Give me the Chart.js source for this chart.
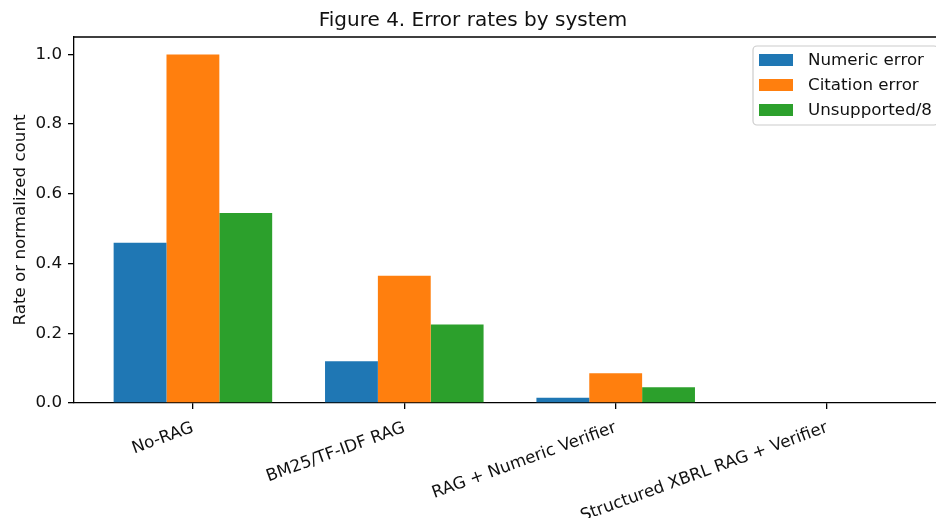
<!DOCTYPE html>
<html>
<head>
<meta charset="utf-8">
<script src="https://cdn.jsdelivr.net/npm/chart.js@4"></script>
<style>
  html, body { margin: 0; padding: 0; overflow: hidden; background: #fff; }
  #wrap { position: absolute; left: 0; top: 0; width: 960px; height: 518px; }
</style>
</head>
<body>
<div id="wrap"><canvas id="chart" width="960" height="518"></canvas></div>
<script>
// Data
var systems = ['No-RAG', 'BM25/TF-IDF RAG', 'RAG + Numeric Verifier', 'Structured XBRL RAG + Verifier'];
var numericError = [0.46, 0.12, 0.015, 0];
var citationError = [1.0, 0.365, 0.085, 0];
var unsupported8 = [0.545, 0.225, 0.045, 0];
var yTicks = [0, 0.2, 0.4, 0.6, 0.8, 1.0];

var FONT = "'DejaVu Sans', sans-serif";
Chart.defaults.font.family = FONT;
Chart.defaults.color = '#000';

function toPoints(arr) {
  return arr.map(function(v, i) { return { x: i, y: v }; });
}

// matplotlib-like legend drawn inside the plot, upper right
var boxLegend = {
  id: 'boxLegend',
  afterDatasetsDraw: function(chart) {
    var ctx = chart.ctx;
    var area = chart.chartArea;
    var x = 753, y = 46, w = area.right - 8 - 753, h = 79;
    ctx.save();
    ctx.beginPath();
    ctx.roundRect(x, y, w, h, 4);
    ctx.fillStyle = 'rgba(255,255,255,0.8)';
    ctx.fill();
    ctx.strokeStyle = '#cccccc';
    ctx.lineWidth = 1.2;
    ctx.stroke();
    ctx.font = '16.7px ' + FONT;
    ctx.textBaseline = 'middle';
    chart.data.datasets.forEach(function(ds, i) {
      var cy = 60 + i * 25;
      ctx.fillStyle = ds.backgroundColor;
      ctx.fillRect(759, cy - 6, 34, 12);
      ctx.fillStyle = '#111';
      ctx.fillText(ds.label, 808, cy + 1);
    });
    ctx.restore();
  }
};

// top / right spines
var frame = {
  id: 'frame',
  afterDraw: function(chart) {
    var a = chart.chartArea, ctx = chart.ctx;
    ctx.save();
    ctx.strokeStyle = '#000';
    ctx.lineWidth = 1.3;
    ctx.beginPath();
    ctx.moveTo(a.left, a.top);
    ctx.lineTo(a.right, a.top);
    ctx.lineTo(a.right, a.bottom);
    ctx.stroke();
    ctx.restore();
  }
};

var ctx = document.getElementById('chart').getContext('2d');
var chart = new Chart(ctx, {
  type: 'bar',
  data: {
    datasets: [
      { label: 'Numeric error', data: toPoints(numericError), backgroundColor: '#1f77b4' },
      { label: 'Citation error', data: toPoints(citationError), backgroundColor: '#ff7f0e' },
      { label: 'Unsupported/8', data: toPoints(unsupported8), backgroundColor: '#2ca02c' }
    ]
  },
  options: {
    responsive: false,
    devicePixelRatio: 1,
    animation: false,
    layout: { padding: { left: 0, right: 14, top: 0, bottom: 0 } },
    datasets: { bar: { categoryPercentage: 0.75, barPercentage: 1.0, borderWidth: 0 } },
    plugins: {
      legend: { display: false },
      tooltip: { enabled: false },
      title: {
        display: true,
        text: 'Figure 4. Error rates by system',
        font: { size: 20, weight: 'normal' },
        color: '#111',
        padding: { top: 9, bottom: 4 }
      }
    },
    scales: {
      x: {
        type: 'linear',
        offset: false,
        min: -0.5625,
        max: 3.5625,
        afterBuildTicks: function(scale) {
          scale.ticks = systems.map(function(s, i) { return { value: i }; });
        },
        afterFit: function(scale) { scale.height = 115; },
        grid: { display: true, offset: false, drawOnChartArea: false, color: '#000', lineWidth: 1.3, tickLength: 6 },
        border: { display: true, color: '#000', width: 1.3 },
        ticks: {
          minRotation: 20,
          maxRotation: 20,
          padding: 9,
          color: '#111',
          font: { size: 16.7 },
          callback: function(v) { return systems[v]; }
        }
      },
      y: {
        min: 0,
        max: 1.05,
        afterBuildTicks: function(scale) {
          scale.ticks = yTicks.map(function(v) { return { value: v }; });
        },
        afterFit: function(scale) { scale.width = 74; },
        grid: { display: true, drawOnChartArea: false, color: '#000', lineWidth: 1.3, tickLength: 6 },
        border: { display: true, color: '#000', width: 1.3 },
        ticks: {
          padding: 6,
          color: '#111',
          font: { size: 16.7 },
          callback: function(v) { return v.toFixed(1); }
        },
        title: {
          display: true,
          text: 'Rate or normalized count',
          color: '#111',
          font: { size: 16.7 },
          padding: { top: 11, bottom: 0 }
        }
      }
    }
  },
  plugins: [boxLegend, frame]
});
</script>
</body>
</html>
